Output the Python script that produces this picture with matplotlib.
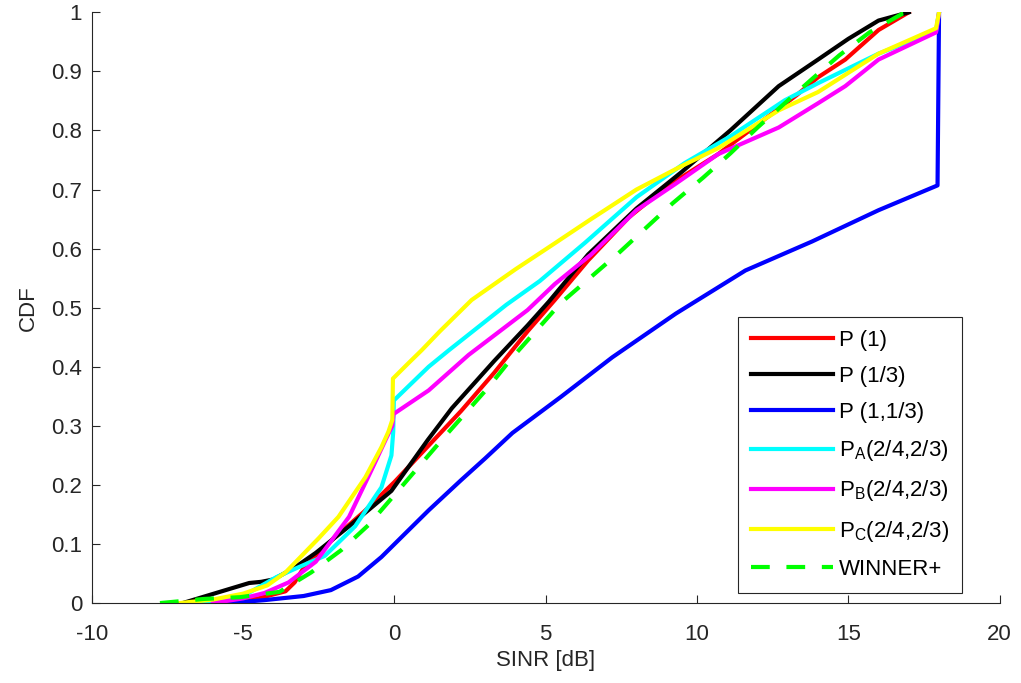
import matplotlib
matplotlib.use("Agg")
import matplotlib.pyplot as plt

plt.rcParams['font.family'] = ['Liberation Sans', 'DejaVu Sans']
plt.rcParams['mathtext.fontset'] = 'custom'
plt.rcParams['mathtext.rm'] = 'Liberation Sans'
plt.rcParams['axes.unicode_minus'] = False

# CDF curves (SINR in dB, CDF value)
p1_x = [-5.8, -4.5, -3.6, -3.3, -3.0, -2.0, -1.0, 0.0, 1.1, 2.2, 3.3, 4.4, 5.3, 6.4, 7.75, 9.0, 10.7, 12.0, 13.3, 14.0, 14.9, 16.0, 17.0]
p1_y = [0.0, 0.008, 0.02, 0.035, 0.06, 0.11, 0.155, 0.205, 0.265, 0.325, 0.39, 0.46, 0.513, 0.58, 0.653, 0.705, 0.76, 0.81, 0.86, 0.89, 0.92, 0.97, 1.0]

p13_x = [-7.0, -5.9, -4.8, -4.4, -4.0, -3.3, -2.6, -1.5, -0.1, 1.1, 1.9, 3.3, 4.4, 5.1, 6.4, 8.0, 9.5, 11.1, 12.7, 14.0, 15.0, 16.0, 17.0]
p13_y = [0.0, 0.017, 0.034, 0.036, 0.04, 0.06, 0.085, 0.13, 0.19, 0.276, 0.33, 0.41, 0.47, 0.51, 0.59, 0.668, 0.73, 0.80, 0.875, 0.92, 0.955, 0.986, 1.0]

p113_x = [-5.5, -4.3, -3.0, -2.1, -1.2, -0.43, 0.3, 1.13, 2.2, 3.0, 3.9, 5.5, 7.2, 9.3, 11.6, 13.8, 16.0, 17.95, 18.0]
p113_y = [0.0, 0.005, 0.012, 0.022, 0.045, 0.078, 0.115, 0.157, 0.208, 0.245, 0.288, 0.349, 0.416, 0.49, 0.563, 0.612, 0.665, 0.707, 1.0]

pa_x = [-6.5, -5.0, -3.9, -3.2, -2.3, -1.3, -0.43, -0.1, -0.04, -0.02, 1.13, 1.8, 3.7, 4.8, 6.3, 8.0, 9.6, 11.1, 12.9, 14.0, 16.0, 17.9, 18.0]
pa_y = [0.0, 0.012, 0.044, 0.06, 0.08, 0.13, 0.196, 0.25, 0.29, 0.343, 0.40, 0.428, 0.505, 0.545, 0.61, 0.687, 0.745, 0.79, 0.851, 0.88, 0.93, 0.968, 1.0]

pb_x = [-6.0, -5.0, -4.3, -3.5, -2.6, -1.5, -0.76, -0.26, -0.07, -0.03, 1.13, 2.45, 4.4, 5.3, 6.5, 8.0, 9.3, 10.7, 12.7, 14.0, 14.9, 16.0, 17.9, 18.0]
pb_y = [0.0, 0.008, 0.017, 0.035, 0.07, 0.146, 0.225, 0.28, 0.30, 0.32, 0.36, 0.42, 0.496, 0.54, 0.59, 0.665, 0.71, 0.76, 0.805, 0.846, 0.875, 0.92, 0.966, 1.0]

pc_x = [-7.1, -6.0, -5.0, -4.2, -3.6, -3.2, -2.5, -1.85, -1.4, -0.96, -0.43, -0.2, -0.07, -0.05, 0.46, 0.9, 1.5, 2.55, 4.0, 5.3, 6.5, 8.0, 9.5, 10.7, 12.7, 14.0, 16.0, 17.9, 18.0]
pc_y = [0.0, 0.006, 0.016, 0.03, 0.052, 0.073, 0.11, 0.146, 0.18, 0.213, 0.264, 0.29, 0.31, 0.38, 0.406, 0.428, 0.46, 0.513, 0.565, 0.609, 0.65, 0.70, 0.74, 0.77, 0.834, 0.865, 0.93, 0.973, 1.0]

winner_x = [-7.75, -6.3, -5.1, -3.8, -2.75, -1.75, -0.86, 0.0, 1.56, 3.1, 3.9, 4.7, 5.5, 7.4, 9.2, 10.2, 11.1, 12.0, 12.9, 13.8, 14.7, 15.7, 16.8, 17.0]
winner_y = [0.0, 0.007, 0.01, 0.019, 0.052, 0.09, 0.132, 0.183, 0.276, 0.365, 0.416, 0.462, 0.508, 0.592, 0.677, 0.72, 0.761, 0.805, 0.846, 0.887, 0.927, 0.966, 0.998, 1.0]

labels = ['P (1)', 'P (1/3)', 'P (1,1/3)',
          r'P$_{\mathrm{A}}$(2/4,2/3)', r'P$_{\mathrm{B}}$(2/4,2/3)', r'P$_{\mathrm{C}}$(2/4,2/3)',
          'WINNER+']

fig = plt.figure(figsize=(10.21, 6.83), dpi=100)
ax = fig.add_axes([0.090, 0.117, 0.889, 0.865])

lw = 3.0
ax.plot(p1_x, p1_y, color='#ff0000', lw=lw, label=labels[0])
ax.plot(p13_x, p13_y, color='#000000', lw=lw, label=labels[1])
ax.plot(p113_x, p113_y, color='#0000ff', lw=lw, label=labels[2])
ax.plot(pa_x, pa_y, color='#00ffff', lw=lw, label=labels[3])
ax.plot(pb_x, pb_y, color='#ff00ff', lw=lw, label=labels[4])
ax.plot(pc_x, pc_y, color='#ffff00', lw=lw, label=labels[5])
ax.plot(winner_x, winner_y, color='#00ff00', lw=lw, ls=(0, (4.5, 4)), label=labels[6])

ax.set_xlim(-10, 20)
ax.set_ylim(0, 1)
ax.set_xticks(range(-10, 21, 5))
ax.set_yticks([i / 10 for i in range(11)])
ax.set_yticklabels(['0', '0.1', '0.2', '0.3', '0.4', '0.5', '0.6', '0.7', '0.8', '0.9', '1'])

for s in ['top', 'right']:
    ax.spines[s].set_visible(False)
for s in ['left', 'bottom']:
    ax.spines[s].set_color('#262626')
    ax.spines[s].set_linewidth(0.8)
ax.tick_params(direction='in', length=6, width=0.8, colors='#262626', labelsize=16)
ax.tick_params(axis='y', pad=7)
ax.tick_params(axis='x', pad=15)

ax.set_xlabel('SINR [dB]', fontsize=16, color='#262626', labelpad=4)
ax.set_ylabel('CDF', fontsize=16, color='#262626', labelpad=9)

leg = ax.legend(loc='lower right', bbox_to_anchor=(0.959, 0.017), borderaxespad=0,
                fontsize=16, handlelength=3.7, handletextpad=0.25, labelspacing=0.68,
                borderpad=0.6, fancybox=False, framealpha=1)
leg.get_frame().set_edgecolor('#262626')
leg.get_frame().set_linewidth(0.8)

fig.savefig('out.png', dpi=100)
